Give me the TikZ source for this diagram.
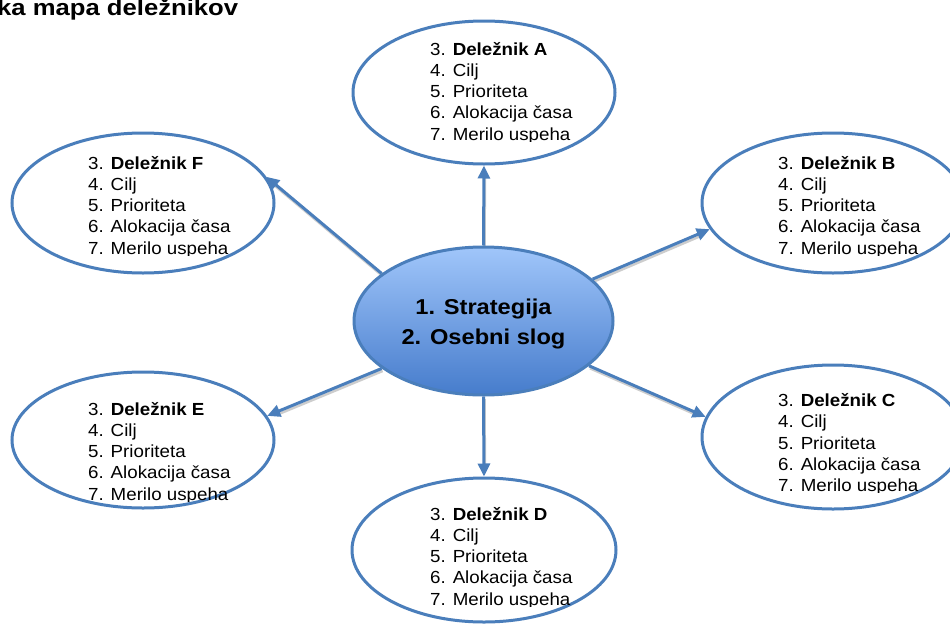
\documentclass[tikz,border=0pt]{standalone}
\usepackage{fontspec}
\setmainfont{Liberation Sans}
\newfontfamily\bodyfont{Liberation Sans}[FakeStretch=1.07]
\newfontfamily\corefont{Liberation Sans}[FakeStretch=1.1]
\newfontfamily\headfont{Liberation Sans}[FakeStretch=1.14]
\usetikzlibrary{shapes.geometric,arrows.meta,backgrounds}
\definecolor{edgeblue}{RGB}{74,126,187}
\definecolor{coretop}{RGB}{160,198,250}
\definecolor{corebottom}{RGB}{70,124,204}
\definecolor{shadowgray}{RGB}{205,205,205}

% five-line entry of one stakeholder bubble
\newcommand\stakelist[1]{\begin{tabular}[t]{@{}l@{}}3. \textbf{Deležnik #1}\\4. Cilj\\5. Prioriteta\\6. Alokacija časa\\7. Merilo uspeha\end{tabular}}

\begin{document}
\begin{tikzpicture}[x=1pt,y=-1pt,
  bubble/.style={ellipse, draw=edgeblue, line width=3pt, fill=white, inner sep=0pt},
  listtext/.style={anchor=base west, inner sep=0pt, font=\bodyfont\fontsize{17.5}{21.3}\selectfont},
  link/.style={draw=edgeblue, line width=3pt, -{Triangle[length=13pt,width=12pt]}},
  linkshade/.style={draw=shadowgray, line width=2.5pt, shorten >=10pt, transform canvas={shift={(1pt,-2.5pt)}}}]
\useasboundingbox (0,0) rectangle (950,624);

% title
\node[anchor=base west, inner sep=0pt, font=\headfont\bfseries\fontsize{22.5}{27}\selectfont] (title) at (-3,15.7) {ka mapa deležnikov};

% central bubble
\node[ellipse, draw=edgeblue, line width=3pt, top color=coretop, bottom color=corebottom,
      minimum width=259pt, minimum height=148pt, inner sep=0pt] (core) at (483.5,321) {};
\node[anchor=base, inner sep=0pt, font=\corefont\bfseries\fontsize{21.5}{30}\selectfont] (coretext) at (483.5,314)
  {\begin{tabular}[t]{@{}c@{}}1. Strategija\\2. Osebni slog\end{tabular}};

% stakeholder bubbles
\node[bubble, minimum width=262pt, minimum height=143pt] (a) at (484,92.5) {};
\node[bubble, minimum width=262pt, minimum height=140pt] (f) at (143,203) {};
\node[bubble, minimum width=262pt, minimum height=140pt] (b) at (833,203) {};
\node[bubble, minimum width=262pt, minimum height=136pt] (e) at (143,440) {};
\node[bubble, minimum width=262pt, minimum height=144pt] (c) at (833,437) {};
\node[bubble, minimum width=264pt, minimum height=144pt] (d) at (484,550) {};

% bubble texts, cut just below the last baseline
\begin{scope}
  \clip (420,30) rectangle (620,141.2);
  \node[listtext] (atext) at (430,55) {\stakelist{A}};
\end{scope}
\begin{scope}
  \clip (78,145) rectangle (280,255.2);
  \node[listtext] (ftext) at (88,169) {\stakelist{F}};
\end{scope}
\begin{scope}
  \clip (768,145) rectangle (960,255.2);
  \node[listtext] (btext) at (778,169) {\stakelist{B}};
\end{scope}
\begin{scope}
  \clip (78,390) rectangle (280,501.2);
  \node[listtext] (etext) at (88,415) {\stakelist{E}};
\end{scope}
\begin{scope}
  \clip (768,380) rectangle (960,492.7);
  \node[listtext] (ctext) at (778,406.5) {\stakelist{C}};
\end{scope}
\begin{scope}
  \clip (420,495) rectangle (620,606.2);
  \node[listtext] (dtext) at (430,520) {\stakelist{D}};
\end{scope}

% connectors from the centre outwards
\begin{scope}[on background layer]
  \fill[white] (0,0) rectangle (950,624);
  \draw[linkshade] (core.90) -- (a.270);
  \draw[linkshade] (core.270) -- (d.90);
  \draw[linkshade] (core.155) -- (f.12);
  \draw[linkshade] (core.205) -- (e.11);
  \draw[linkshade] (core.21) -- (b.192);
  \draw[linkshade] (core.337) -- (c.171);
  \draw[link] (core.90) -- (a.270);
  \draw[link] (core.270) -- (d.90);
  \draw[link] (core.155) -- (f.12);
  \draw[link] (core.205) -- (e.11);
  \draw[link] (core.21) -- (b.192);
  \draw[link] (core.337) -- (c.171);
\end{scope}
\end{tikzpicture}
\end{document}
